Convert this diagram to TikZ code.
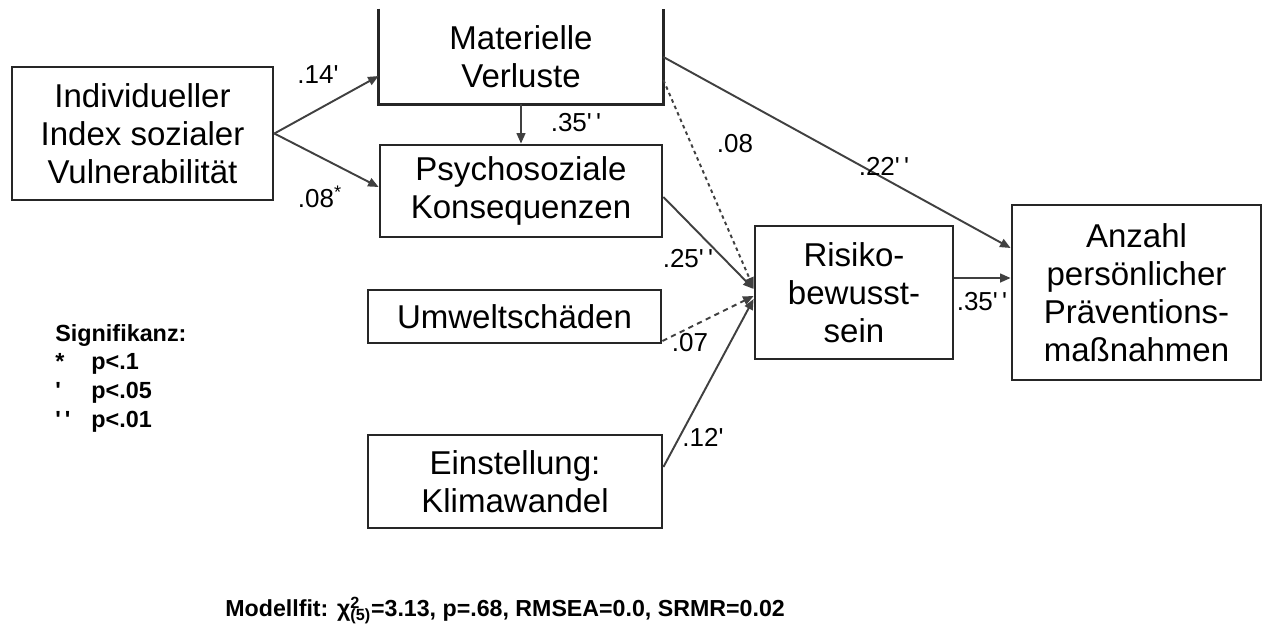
\documentclass[tikz,border=0pt]{standalone}
\usepackage{fontspec}
\setmainfont{Liberation Sans}
\usepackage{tikz}
\usetikzlibrary{calc}
\usetikzlibrary{arrows.meta}

% significance marks
\newcommand{\pten}{\textsuperscript{*}}
\newcommand{\pfive}{\textquotesingle}
\newcommand{\pone}{\textquotesingle\,\textquotesingle}

\begin{document}
\begin{tikzpicture}[x=0.02cm, y=-0.02cm,
  box/.style={draw=black!85, line width=1.6pt, align=center, inner sep=0pt, font=\fontsize{18.8}{21.6}\selectfont},
  boxline/.style={draw=black!85, line width=1.6pt},
  path/.style={draw=black!75, line width=1.1pt, -{Triangle[length=6pt,width=5pt]}},
  coef/.style={inner sep=0pt, font=\fontsize{14.8}{16}\selectfont}]

% Frame
\useasboundingbox (0, 0) rectangle (1263, 629);

% Variables
\node[box, minimum width=5.22cm, minimum height=2.66cm] (indiv) at (142.5, 133.5) {Individueller\\Index sozialer\\Vulnerabilität};
\node[box, draw=none, minimum width=5.64cm, minimum height=1.86cm] (matv) at (521, 56.5) {Materielle\\Verluste};
\draw[boxline] (matv.north west) -- (matv.south west) -- (matv.south east) -- (matv.north east);
\node[box, minimum width=5.64cm, minimum height=1.84cm] (psych) at (521, 191) {Psychosoziale\\Konsequenzen};
\node[box, minimum width=5.86cm, minimum height=1.06cm] (umwelt) at (514.5, 316.5) {Umweltschäden};
\node[box, minimum width=5.88cm, minimum height=1.86cm] (einst) at (515, 481.5) {Einstellung:\\Klimawandel};
\node[box, minimum width=3.96cm, minimum height=2.66cm] (risiko) at (854, 292.5) {Risiko-\\bewusst-\\sein};
\node[box, minimum width=4.98cm, minimum height=3.5cm] (anzahl) at (1136.5, 292.5) {Anzahl\\persönlicher\\Präventions-\\maßnahmen};

% Paths
\draw[path] (indiv.east) -- (matv.west |- 0,76);
\draw[path] (indiv.east) -- (psych.west |- 0,187);
\draw[path] (matv.south) -- (psych.north);
\draw[path] (matv.east |- 0,57) -- (anzahl.west |- 0,248);
\draw[path, dash pattern=on 2pt off 2pt] (matv.east |- 0,80) -- (risiko.west |- 0,288);
\draw[path] (psych.east |- 0,197) -- (risiko.west |- 0,289);
\draw[path, dash pattern=on 3pt off 2.5pt] (umwelt.east |- 0,341) -- (risiko.west |- 0,296);
\draw[path] (einst.east |- 0,467) -- (risiko.west |- 0,299);
\draw[path] (risiko.east |- 0,278) -- (anzahl.west |- 0,278);

% Coefficients
\node[coef] (c14) at (318, 75) {.14\pfive};
\node[coef] (c08a) at (320, 197) {.08\pten};
\node[coef] (c35a) at (576, 123) {.35\pone};
\node[coef] (c08b) at (735, 144) {.08};
\node[coef] (c22) at (884, 166) {.22\pone};
\node[coef] (c25) at (688, 259) {.25\pone};
\node[coef] (c07) at (690, 343) {.07};
\node[coef] (c12) at (703, 437) {.12\pfive};
\node[coef] (c35b) at (982, 302) {.35\pone};

% Legend
\node[anchor=base west, inner sep=0pt, font=\bfseries\fontsize{13.3}{16.5}\selectfont] (signif) at (55, 341)
  {\begin{tabular}[t]{@{}l@{}}
   Signifikanz:\\
   \makebox[0.72cm][l]{*}p<.1\\
   \makebox[0.72cm][l]{\textquotesingle}p<.05\\
   \makebox[0.72cm][l]{\pone}p<.01
   \end{tabular}};

% Fit
\node[anchor=base west, inner sep=0pt, font=\bfseries\fontsize{13.2}{15}\selectfont] (fit) at (225, 616)
  {Modellfit: χ\rlap{\textsuperscript{2}}\textsubscript{(5)}=3.13, p=.68, RMSEA=0.0, SRMR=0.02};

\end{tikzpicture}
\end{document}
